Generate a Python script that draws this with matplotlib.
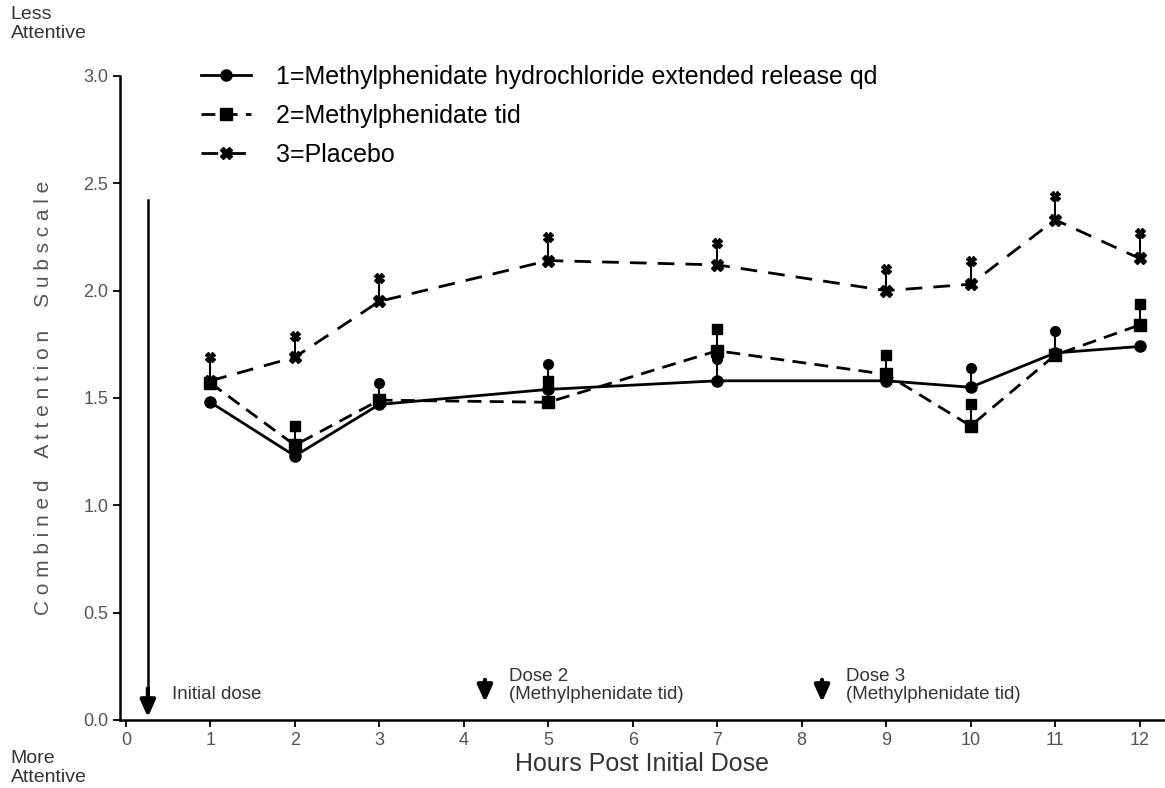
import numpy as np
import matplotlib
matplotlib.use("Agg")
import matplotlib.pyplot as plt

plt.rcParams['font.family'] = ['Liberation Sans', 'DejaVu Sans']

# hours post initial dose
hours = [1, 2, 3, 5, 7, 9, 10, 11, 12]

# 1 = methylphenidate ER qd (mean, upper SEM)
er_mean = [1.48, 1.23, 1.47, 1.54, 1.58, 1.58, 1.55, 1.71, 1.74]
er_sem = [0.00, 0.00, 0.10, 0.12, 0.10, 0.00, 0.09, 0.10, 0.00]

# 2 = methylphenidate tid
tid_mean = [1.57, 1.28, 1.49, 1.48, 1.72, 1.61, 1.37, 1.70, 1.84]
tid_sem = [0.00, 0.09, 0.00, 0.10, 0.10, 0.09, 0.10, 0.00, 0.10]

# 3 = placebo
pla_mean = [1.58, 1.69, 1.95, 2.14, 2.12, 2.00, 2.03, 2.33, 2.15]
pla_sem = [0.11, 0.10, 0.11, 0.11, 0.10, 0.10, 0.11, 0.11, 0.12]

legend_labels = ["1=Methylphenidate hydrochloride extended release qd",
                 "2=Methylphenidate tid",
                 "3=Placebo"]

dose_x = [0.26, 4.25, 8.24]
dose_text = ["Initial dose", "Dose 2\n(Methylphenidate tid)",
             "Dose 3\n(Methylphenidate tid)"]

grey = "#555555"

fig = plt.figure(figsize=(11.65, 7.88), dpi=100)
ax = fig.add_axes([0.103, 0.0863, 0.897, 0.8173])

series = [
    (er_mean, er_sem, "o", "-", legend_labels[0]),
    (tid_mean, tid_sem, "s", (0, (5, 3)), legend_labels[1]),
    (pla_mean, pla_sem, "X", (0, (6, 4)), legend_labels[2]),
]

for mean, sem, mk, ls, lab in series:
    mean = np.array(mean)
    sem = np.array(sem)
    ax.errorbar(hours, mean, yerr=[np.zeros_like(sem), sem], fmt="none",
                ecolor="black", elinewidth=1.5, capsize=0)
    has = sem > 0
    ax.plot(np.array(hours)[has], (mean + sem)[has], linestyle="none",
            marker=mk, markersize=7, color="black", markeredgecolor="black")
    ax.plot(hours, mean, linestyle=ls, linewidth=2, marker=mk, markersize=8,
            color="black", label=lab)

# initial dose line with arrow
ax.plot([dose_x[0], dose_x[0]], [0.1, 2.42], color="black", linewidth=1.8)
for dx, txt in zip(dose_x, dose_text):
    if dx < 1:
        tip, top, ty = 0.0, 0.16, 0.12
    else:
        tip, top, ty = 0.07, 0.2, 0.16
    ax.annotate("", xy=(dx, tip), xytext=(dx, top),
                arrowprops=dict(arrowstyle="-|>,head_width=0.45,head_length=1.0",
                                color="black", linewidth=3))
    ax.text(dx + 0.28, ty, txt, fontsize=13.5, color="#333333",
            va="center", ha="left", linespacing=1.1)

ax.set_xlim(-0.07, 12.3)
ax.set_ylim(0, 3.0)
ax.set_xticks(range(0, 13))
ax.set_yticks([0.0, 0.5, 1.0, 1.5, 2.0, 2.5, 3.0])
ax.set_yticklabels(["0.0", "0.5", "1.0", "1.5", "2.0", "2.5", "3.0"])
ax.tick_params(axis="both", labelsize=13, labelcolor=grey, direction="out",
               length=5, width=1.3)
for s in ["top", "right"]:
    ax.spines[s].set_visible(False)
for s in ["left", "bottom"]:
    ax.spines[s].set_linewidth(1.8)

ylab = "    ".join(" ".join(w) for w in "Combined Attention Subscale".split())
ax.set_ylabel(ylab, fontsize=15, color=grey, labelpad=22)
ax.set_xlabel("Hours Post Initial Dose", fontsize=18, color="#333333", labelpad=2)

fig.text(0.009, 0.992, "Less\nAttentive", fontsize=14, color="#333333",
         va="top", ha="left", linespacing=1.1)
fig.text(0.009, 0.003, "More\nAttentive", fontsize=14, color="#333333",
         va="bottom", ha="left", linespacing=1.1)

leg = ax.legend(loc="upper left", bbox_to_anchor=(0.056, 1.052), frameon=False,
                fontsize=18, handlelength=2.0, handletextpad=1.0,
                labelspacing=0.6)

fig.savefig("out.png", dpi=100)
